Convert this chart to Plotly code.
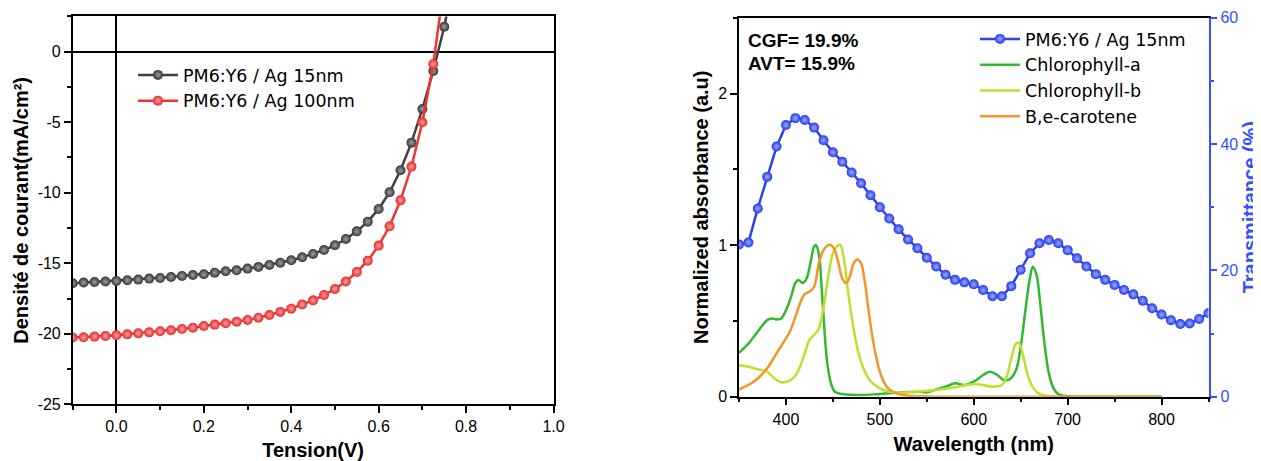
import plotly.graph_objects as go

# ---------------- Left chart: J-V curves ----------------
voltage = [-0.1, -0.075, -0.05, -0.025, 0.0, 0.025, 0.05, 0.075, 0.1, 0.125, 0.15, 0.175,
           0.2, 0.225, 0.25, 0.275, 0.3, 0.325, 0.35, 0.375, 0.4, 0.425, 0.45, 0.475,
           0.5, 0.525, 0.55, 0.575, 0.6, 0.625, 0.65, 0.675, 0.7, 0.725, 0.75, 0.775]
j_ag15 = [-16.42, -16.37, -16.33, -16.30, -16.26, -16.21, -16.16, -16.09, -16.04, -15.97,
          -15.90, -15.83, -15.78, -15.67, -15.57, -15.50, -15.38, -15.26, -15.12, -14.96,
          -14.79, -14.58, -14.34, -14.06, -13.73, -13.28, -12.74, -12.05, -11.15, -9.97,
          -8.41, -6.45, -4.06, -1.37, 1.77, 5.6]
j_ag100 = [-20.27, -20.25, -20.20, -20.16, -20.11, -20.04, -19.97, -19.90, -19.82, -19.75,
           -19.66, -19.57, -19.45, -19.35, -19.26, -19.14, -19.02, -18.86, -18.67, -18.45,
           -18.22, -17.93, -17.63, -17.25, -16.82, -16.30, -15.62, -14.82, -13.75, -12.38,
           -10.54, -8.15, -5.01, -0.87, 4.6, 10.5]
jv_xticks = [0.0, 0.2, 0.4, 0.6, 0.8, 1.0]
jv_xticktext = ["0.0", "0.2", "0.4", "0.6", "0.8", "1.0"]
jv_yticks = [0, -5, -10, -15, -20, -25]
jv_yticktext = ["0", "-5", "-10", "-15", "-20", "-25"]

# ---------------- Right chart: spectra ----------------
wl_T = list(range(350, 851, 10))
transmittance = [24.1, 24.4, 29.8, 34.8, 39.6, 43.0, 44.1, 43.8, 42.6, 40.6,
                 38.7, 37.2, 35.5, 33.8, 31.9, 30.0, 28.2, 26.5, 24.9, 23.5,
                 22.0, 20.6, 19.3, 18.5, 18.1, 17.8, 16.9, 15.9, 15.9, 17.5,
                 20.1, 22.7, 24.3, 24.8, 24.3, 23.2, 21.9, 20.6, 19.4, 18.5,
                 17.7, 16.9, 16.2, 15.2, 14.0, 13.0, 12.1, 11.5, 11.6, 12.3, 13.2]

wl_chla = [350, 360, 370, 380, 385, 390, 395, 400, 405, 410, 413, 418, 422, 426, 430, 432,
           435, 438, 441, 444, 448, 452, 460, 480, 500, 520, 540, 550, 560, 570, 580, 590,
           600, 610, 617, 625, 632, 638, 645, 650, 655, 660, 663, 667, 670, 675, 680, 685,
           690, 700, 750, 800]
abs_chla = [0.29, 0.35, 0.43, 0.505, 0.516, 0.51, 0.516, 0.57, 0.65, 0.75, 0.77, 0.75, 0.78,
            0.88, 0.99, 1.0, 0.945, 0.725, 0.44, 0.22, 0.088, 0.033, 0.018, 0.011, 0.018,
            0.026, 0.033, 0.029, 0.048, 0.066, 0.088, 0.077, 0.099, 0.143, 0.165, 0.143,
            0.11, 0.114, 0.176, 0.33, 0.57, 0.79, 0.857, 0.80, 0.66, 0.37, 0.154, 0.055,
            0.018, 0.004, 0.0, 0.0]

wl_chlb = [350, 360, 370, 380, 385, 390, 395, 400, 405, 410, 415, 420, 425, 430, 435, 440,
           445, 450, 455, 458, 462, 466, 470, 475, 480, 485, 490, 500, 510, 520, 540, 560,
           580, 600, 610, 620, 630, 635, 640, 645, 648, 652, 656, 660, 665, 670, 680, 690,
           750, 800]
abs_chlb = [0.207, 0.198, 0.18, 0.165, 0.136, 0.11, 0.095, 0.097, 0.11, 0.138, 0.198, 0.286,
            0.374, 0.407, 0.45, 0.59, 0.79, 0.945, 0.995, 1.0, 0.90, 0.70, 0.527, 0.35, 0.23,
            0.154, 0.103, 0.055, 0.033, 0.026, 0.033, 0.044, 0.062, 0.084, 0.077, 0.066,
            0.077, 0.132, 0.253, 0.35, 0.356, 0.286, 0.176, 0.099, 0.044, 0.018, 0.004, 0.0,
            0.0, 0.0]

wl_car = [350, 360, 370, 380, 390, 400, 405, 410, 415, 420, 425, 430, 435, 440, 445, 448,
          452, 456, 460, 464, 468, 472, 476, 480, 484, 488, 492, 496, 500, 505, 510, 520,
          530, 550, 600, 700, 800]
abs_car = [0.048, 0.077, 0.12, 0.187, 0.286, 0.385, 0.44, 0.527, 0.615, 0.677, 0.692, 0.725,
           0.879, 0.967, 1.0, 1.0, 0.967, 0.879, 0.78, 0.75, 0.79, 0.879, 0.905, 0.879, 0.758,
           0.57, 0.396, 0.264, 0.165, 0.088, 0.048, 0.018, 0.007, 0.002, 0.0, 0.0, 0.0]

sp_xticks = [400, 500, 600, 700, 800]
sp_xticktext = ["400", "500", "600", "700", "800"]
sp_yticks = [0, 1, 2]
sp_yticktext = ["0", "1", "2"]
tr_yticks = [0, 20, 40, 60]
tr_yticktext = ["0", "20", "40", "60"]

FONT = "Arial, Liberation Sans, sans-serif"
LEG_FONT = "DejaVu Sans, Arial, sans-serif"
BLUE_AX = "#3450ff"

fig = go.Figure()

fig.add_trace(go.Scatter(
    x=voltage, y=j_ag15, mode="lines+markers", name="PM6:Y6 / Ag 15nm",
    line=dict(color="#404040", width=2.5),
    marker=dict(size=10, color="#363636", gradient=dict(type="radial", color="#a0a0a0"),
                line=dict(width=0)),
    xaxis="x", yaxis="y", legend="legend"))
fig.add_trace(go.Scatter(
    x=voltage, y=j_ag100, mode="lines+markers", name="PM6:Y6 / Ag 100nm",
    line=dict(color="#ee3535", width=2.5),
    marker=dict(size=10, color="#e52a2a", gradient=dict(type="radial", color="#ffa0a0"),
                line=dict(width=0)),
    xaxis="x", yaxis="y", legend="legend"))

fig.add_trace(go.Scatter(
    x=wl_T, y=transmittance, mode="lines+markers", name="PM6:Y6 / Ag 15nm",
    line=dict(color="#2a40f2", width=2.5),
    marker=dict(size=10, color="#2238ee", gradient=dict(type="radial", color="#a0acff"),
                line=dict(width=0)),
    xaxis="x2", yaxis="y3", legend="legend2"))
fig.add_trace(go.Scatter(
    x=wl_chla, y=abs_chla, mode="lines", name="Chlorophyll-a", line_shape="spline",
    line=dict(color="#2fba2f", width=2.5), xaxis="x2", yaxis="y2", legend="legend2"))
fig.add_trace(go.Scatter(
    x=wl_chlb, y=abs_chlb, mode="lines", name="Chlorophyll-b", line_shape="spline",
    line=dict(color="#bde02c", width=2.5), xaxis="x2", yaxis="y2", legend="legend2"))
fig.add_trace(go.Scatter(
    x=wl_car, y=abs_car, mode="lines", name="B,e-carotene", line_shape="spline",
    line=dict(color="#f0962a", width=2.5), xaxis="x2", yaxis="y2", legend="legend2"))

# the page places the figure 8 px from the window's top-left corner
OFF = 8
W, H = 1261 - OFF, 461 - OFF
def px_x(p): return (p - OFF) / W
def px_y(p): return (H - (p - OFF)) / H

axis_common = dict(showline=True, linecolor="black", linewidth=1.5, showgrid=False,
                   automargin=False,
                   ticks="outside", ticklen=7, tickwidth=1.5, tickcolor="black",
                   tickfont=dict(family=FONT, size=16, color="black"))

fig.update_layout(
    width=W, height=H, margin=dict(l=0, r=0, t=0, b=0, autoexpand=False),
    paper_bgcolor="white", plot_bgcolor="white",
    font=dict(family=FONT, color="black"),
    xaxis=dict(domain=[px_x(72.7), px_x(553.5)], range=[-0.1, 1.0], anchor="y",
               tickmode="array", tickvals=jv_xticks, ticktext=jv_xticktext, mirror=True,
               zeroline=True, zerolinecolor="black", zerolinewidth=1.5,
               minor=dict(dtick=0.1, tick0=0, ticks="outside", ticklen=4, tickwidth=1.5,
                          tickcolor="black"),
               title=dict(text="<b>Tension(V)</b>", font=dict(family=FONT, size=20),
                          standoff=16),
               **axis_common),
    yaxis=dict(domain=[px_y(404.3), px_y(16.4)], range=[-25, 2.5], anchor="x",
               tickmode="array", tickvals=jv_yticks, ticktext=jv_yticktext, mirror=True,
               zeroline=True, zerolinecolor="black", zerolinewidth=1.5,
               minor=dict(dtick=2.5, tick0=0, ticks="outside", ticklen=4, tickwidth=1.5,
                          tickcolor="black"),
               title=dict(text="<b>Densité de courant(mA/cm²)</b>",
                          font=dict(family=FONT, size=20), standoff=4),
               **axis_common),
    xaxis2=dict(domain=[px_x(739), px_x(1208.5)], range=[350, 850], anchor="y2",
                tickmode="array", tickvals=sp_xticks, ticktext=sp_xticktext, mirror=True,
                zeroline=False,
                minor=dict(dtick=50, tick0=350, ticks="outside", ticklen=4, tickwidth=1.5,
                           tickcolor="black"),
                title=dict(text="<b>Wavelength (nm)</b>", font=dict(family=FONT, size=20),
                           standoff=10),
                **axis_common),
    yaxis2=dict(domain=[px_y(396.7), px_y(17.7)], range=[0, 2.5], anchor="x2",
                tickmode="array", tickvals=sp_yticks, ticktext=sp_yticktext,
                zeroline=False,
                minor=dict(dtick=0.5, tick0=0, ticks="outside", ticklen=4, tickwidth=1.5,
                           tickcolor="black"),
                title=dict(text="<b>Normalized absorbance (a.u)</b>",
                           font=dict(family=FONT, size=20), standoff=4),
                **axis_common),
    yaxis3=dict(range=[0, 60], overlaying="y2", side="right", anchor="x2",
                tickmode="array", tickvals=tr_yticks, ticktext=tr_yticktext,
                showline=True, linecolor=BLUE_AX, linewidth=1.5, showgrid=False,
                automargin=False,
                zeroline=False, ticks="outside", ticklen=7, tickwidth=1.5, tickcolor=BLUE_AX,
                tickfont=dict(family=FONT, size=16, color=BLUE_AX),
                minor=dict(dtick=10, tick0=0, ticks="outside", ticklen=4, tickwidth=1.5,
                           tickcolor=BLUE_AX),
                title=dict(text="<b>Transmittance (%)</b>",
                           font=dict(family=FONT, size=20, color=BLUE_AX), standoff=11)),
    legend=dict(x=px_x(133), y=px_y(57), xanchor="left", yanchor="top",
                bgcolor="rgba(0,0,0,0)", font=dict(family=LEG_FONT, size=17.5, color="black"),
                tracegroupgap=0, itemwidth=40),
    legend2=dict(x=px_x(975), y=px_y(21), xanchor="left", yanchor="top",
                 bgcolor="rgba(0,0,0,0)", font=dict(family=LEG_FONT, size=17.5, color="black"),
                 tracegroupgap=0, itemwidth=40),
    annotations=[
        dict(text="<b>CGF= 19.9%</b>", x=px_x(746), y=px_y(40), xref="paper", yref="paper",
             xanchor="left", yanchor="middle", showarrow=False,
             font=dict(family=FONT, size=19, color="black")),
        dict(text="<b>AVT= 15.9%</b>", x=px_x(746), y=px_y(64), xref="paper", yref="paper",
             xanchor="left", yanchor="middle", showarrow=False,
             font=dict(family=FONT, size=19, color="black")),
    ],
)

fig.write_html("out.html")
